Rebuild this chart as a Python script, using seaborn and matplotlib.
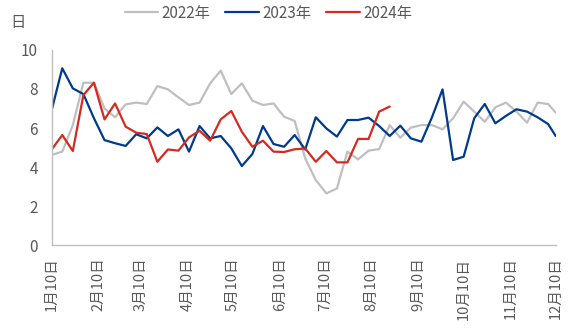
import pandas as pd
import matplotlib
matplotlib.use("Agg")
import matplotlib.pyplot as plt
import seaborn as sns

# Weekly values (days), one list per year
years = ["2022年", "2023年", "2024年"]
v2022 = [4.62, 4.79, 6.15, 8.32, 8.32, 7.00, 6.55, 7.21, 7.30, 7.23,
         8.15, 7.98, 7.57, 7.18, 7.30, 8.29, 8.94, 7.74, 8.29, 7.40,
         7.18, 7.26, 6.58, 6.36, 4.44, 3.33, 2.65, 2.90, 4.79, 4.39,
         4.84, 4.92, 6.15, 5.50, 6.02, 6.15, 6.15, 5.93, 6.50, 7.35,
         6.84, 6.32, 7.06, 7.30, 6.84, 6.27, 7.30, 7.23, 6.79]
v2023 = [6.92, 9.06, 8.03, 7.74, 6.50, 5.38, 5.22, 5.08, 5.68, 5.47,
         6.03, 5.59, 5.93, 4.79, 6.10, 5.47, 5.59, 4.96, 4.05, 4.67,
         6.10, 5.18, 5.04, 5.64, 4.90, 6.55, 5.98, 5.56, 6.41, 6.41,
         6.53, 6.10, 5.59, 6.12, 5.47, 5.30, 6.55, 7.98, 4.36, 4.53,
         6.50, 7.23, 6.24, 6.62, 6.96, 6.84, 6.55, 6.20, 5.59]
v2024 = [4.90, 5.64, 4.82, 7.69, 8.32, 6.44, 7.26, 6.07, 5.76, 5.69,
         4.27, 4.90, 4.84, 5.52, 5.86, 5.35, 6.44, 6.87, 5.81, 5.04,
         5.35, 4.79, 4.77, 4.91, 4.95, 4.27, 4.82, 4.24, 4.24, 5.44,
         5.44, 6.84, 7.10]
tick_labels = ["1月10日", "2月10日", "3月10日", "4月10日", "5月10日", "6月10日",
               "7月10日", "8月10日", "9月10日", "10月10日", "11月10日", "12月10日"]
colors = ["#BFBFBF", "#003A8C", "#D42A20"]

# Shared calendar: weekly from 10 Jan, closing on 10 Dec
week_dates = list(pd.date_range("2023-01-10", periods=48, freq="7D")) + [pd.Timestamp("2023-12-10")]
tick_dates = pd.date_range("2023-01-01", periods=12, freq="MS") + pd.Timedelta(days=9)

frames = []
for name, vals in zip(years, [v2022, v2023, v2024]):
    frames.append(pd.DataFrame({"date": week_dates[:len(vals)], "value": vals, "year": name}))
df = pd.concat(frames, ignore_index=True)

sns.set_theme(style="white")
plt.rcParams["font.family"] = ["Noto Sans CJK SC", "DejaVu Sans"]

fig = plt.figure(figsize=(5.77, 3.33), dpi=100)
ax = fig.add_axes([0.0896, 0.264, 0.8735, 0.586])

sns.lineplot(data=df, x="date", y="value", hue="year", hue_order=years,
             palette=colors, linewidth=1.6, ax=ax)

ax.set_xlim(tick_dates[0], tick_dates[-1])
ax.set_ylim(0, 10)
ax.set_yticks(range(0, 11, 2))
ax.set_xticks(tick_dates)
ax.set_xticklabels(tick_labels, rotation=90)
ax.set_xlabel("")
ax.set_ylabel("")

for side in ["top", "right"]:
    ax.spines[side].set_visible(False)
for side in ["left", "bottom"]:
    ax.spines[side].set_color("#BFBFBF")
    ax.spines[side].set_linewidth(1.0)

ax.tick_params(axis="both", direction="in", length=4, width=1.0, color="#BFBFBF",
               labelcolor="#595959", labelsize=11, pad=10)
ax.tick_params(axis="x", labelsize=10.5, pad=9)

fig.text(10 / 577, 1 - 23 / 333, "日", color="#595959", fontsize=11, ha="left", va="center")

sns.move_legend(ax, "center", bbox_to_anchor=(0.465, 0.96), bbox_transform=fig.transFigure,
                ncol=3, frameon=False, title=None, fontsize=11, handlelength=2.2,
                handletextpad=0.2, columnspacing=1.0, labelcolor="#595959")

fig.savefig("out.png", dpi=100)
